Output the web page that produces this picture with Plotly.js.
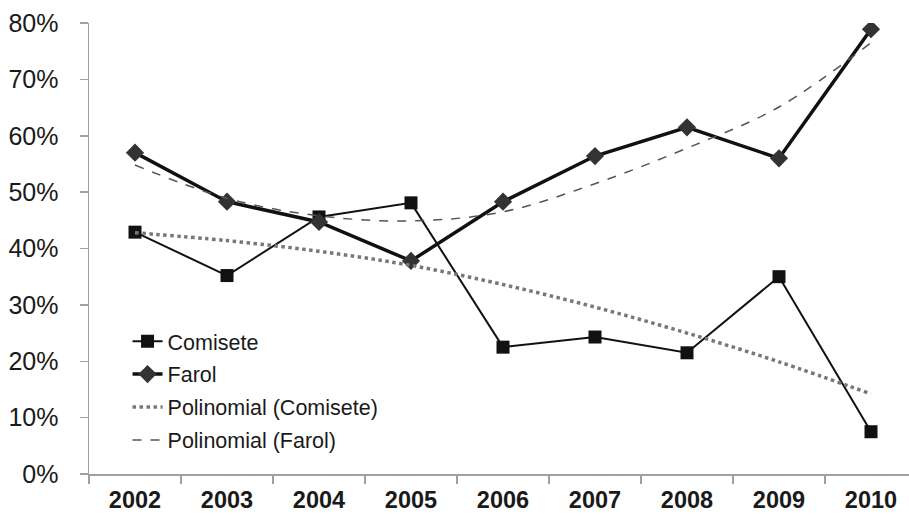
<!DOCTYPE html>
<html>
<head>
<meta charset="utf-8">
<script src="https://cdn.plot.ly/plotly-3.0.1.min.js"></script>
<style>html,body{margin:0;padding:0;background:#fff;}#chart{width:909px;height:516px;}</style>
</head>
<body>
<div id="chart"></div>
<script>
const years = ['2002','2003','2004','2005','2006','2007','2008','2009','2010'];
const comisete = [0.429, 0.352, 0.456, 0.481, 0.225, 0.243, 0.215, 0.350, 0.075];
const farol = [0.570, 0.483, 0.447, 0.378, 0.483, 0.564, 0.615, 0.560, 0.789];
const trendComisete = [0.428, 0.414, 0.395, 0.370, 0.336, 0.296, 0.250, 0.199, 0.142];
const trendFarol = [0.548, 0.489, 0.458, 0.449, 0.465, 0.515, 0.578, 0.651, 0.765];
const names = ['Comisete', 'Farol', 'Polinomial (Comisete)', 'Polinomial (Farol)'];

const font = 'Liberation Sans, Arial, sans-serif';

const traces = [
  {x: years, y: comisete, name: names[0], legendgroup: 'a', type: 'scatter', mode: 'lines+markers',
   line: {color: '#111111', width: 2}, marker: {symbol: 'square', size: 13, color: '#111111'}},
  {x: years, y: farol, name: names[1], legendgroup: 'b', type: 'scatter', mode: 'lines+markers',
   line: {color: '#111111', width: 3.5}, marker: {symbol: 'diamond', size: 14, color: '#333333'}},
  {x: years, y: trendComisete, name: names[2], legendgroup: 'c', type: 'scatter', mode: 'lines',
   line: {color: '#777777', width: 3.5, dash: 'dot', shape: 'spline'}},
  {x: years, y: trendFarol, name: names[3], legendgroup: 'd', type: 'scatter', mode: 'lines',
   line: {color: '#555555', width: 1.5, dash: 'dash', shape: 'spline'}}
];

const layout = {
  width: 909, height: 516,
  margin: {l: 89, r: 0, t: 23, b: 42},
  paper_bgcolor: '#ffffff', plot_bgcolor: '#ffffff',
  font: {family: font, color: '#1a1a1a'},
  showlegend: true,
  legend: {x: 0.047, y: 0.34, xanchor: 'left', yanchor: 'top',
           font: {family: font, size: 21.5, color: '#1a1a1a'},
           bgcolor: 'rgba(0,0,0,0)', traceorder: 'grouped', tracegroupgap: 2},
  xaxis: {type: 'category', range: [-0.5, 8.413], tickson: 'boundaries',
          ticks: 'outside', ticklen: 8, tickcolor: '#a0a0a0', tickwidth: 1.5,
          showline: true, linecolor: '#a0a0a0', linewidth: 1.5,
          showgrid: false, zeroline: false, ticklabelstandoff: 4,
          tickfont: {family: font, size: 23.5, color: '#1a1a1a', weight: 'bold'}},
  yaxis: {range: [0, 0.8], dtick: 0.1, tickformat: '.0%',
          ticks: 'outside', ticklen: 8, tickcolor: '#a0a0a0', tickwidth: 1.5,
          showline: true, linecolor: '#a0a0a0', linewidth: 1.5,
          showgrid: false, zeroline: false, ticklabelstandoff: 16,
          tickfont: {family: font, size: 25, color: '#1a1a1a'}}
};

Plotly.newPlot('chart', traces, layout, {displayModeBar: false, staticPlot: true});
</script>
</body>
</html>
